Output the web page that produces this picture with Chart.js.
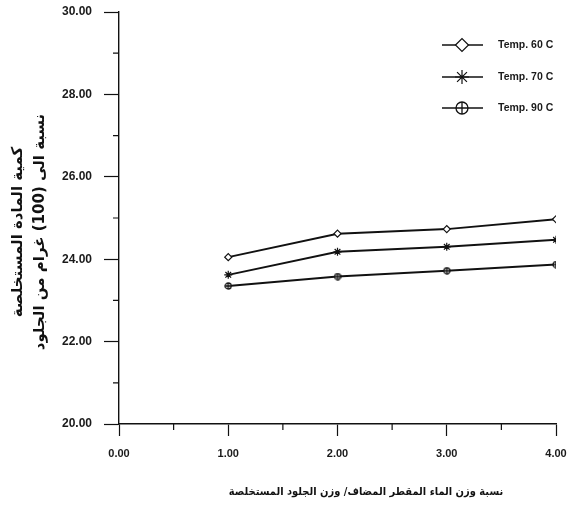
<!DOCTYPE html>
<html>
<head>
<meta charset="utf-8">
<script src="https://cdn.jsdelivr.net/npm/chart.js@4/dist/chart.umd.min.js"></script>
<style>
  html, body { margin: 0; padding: 0; background: #ffffff; }
  #wrap { width: 572px; height: 508px; }
</style>
</head>
<body>
<div id="wrap"><canvas id="c" width="572" height="508"></canvas></div>
<script>
// ---- data ----
const xValues = [1, 2, 3, 4];
const temp60 = [24.05, 24.62, 24.73, 24.97];
const temp70 = [23.62, 24.18, 24.30, 24.47];
const temp90 = [23.35, 23.58, 23.72, 23.87];
const seriesNames = ['Temp. 60 C', 'Temp. 70 C', 'Temp. 90 C'];
const yTickValues = [20, 22, 24, 26, 28, 30];
const xTickValues = [0, 1, 2, 3, 4];
const yTitle = ['كمية المادة المستخلصة', 'نسبة الى (100) غرام من الجلود'];
const xTitle = 'نسبة وزن الماء المقطر المضاف/ وزن الجلود المستخلصة';

function circlePlus(size) {
  const cv = document.createElement('canvas');
  cv.width = size; cv.height = size;
  const g = cv.getContext('2d');
  const r = size / 2 - 1;
  g.strokeStyle = '#111'; g.lineWidth = 1.3;
  g.fillStyle = '#fff';
  g.beginPath(); g.arc(size / 2, size / 2, r, 0, Math.PI * 2); g.fill(); g.stroke();
  g.beginPath();
  g.moveTo(size / 2, 1); g.lineTo(size / 2, size - 1);
  g.moveTo(1, size / 2); g.lineTo(size - 1, size / 2);
  g.stroke();
  return cv;
}
const cpSmall = circlePlus(8);
const cpLarge = circlePlus(14);

const pts = (arr) => xValues.map((x, i) => ({ x: x, y: arr[i] }));

const styles = [
  { pointStyle: 'rectRot', radius: 3.5, legendRadius: 6.5, bg: '#ffffff' },
  { pointStyle: 'star', radius: 4, legendRadius: 7, bg: '#111' },
  { pointStyle: cpSmall, legendStyle: cpLarge, radius: 4, legendRadius: 7, bg: '#fff' }
];

const bgPlugin = {
  id: 'bg',
  beforeDraw(chart) {
    const ctx = chart.ctx;
    ctx.save();
    ctx.fillStyle = '#ffffff';
    ctx.fillRect(0, 0, chart.width, chart.height);
    ctx.restore();
  }
};

const minorTicks = {
  id: 'minorTicks',
  afterDraw(chart) {
    const ctx = chart.ctx;
    const xs = chart.scales.x, ys = chart.scales.y;
    ctx.save();
    ctx.strokeStyle = '#111';
    ctx.lineWidth = 1.2;
    ctx.beginPath();
    for (let v = 21; v < 30; v += 2) {
      const py = ys.getPixelForValue(v);
      ctx.moveTo(xs.left - 6, py); ctx.lineTo(xs.left, py);
    }
    for (let v = 0.5; v < 4; v += 1) {
      const px = xs.getPixelForValue(v);
      ctx.moveTo(px, ys.bottom); ctx.lineTo(px, ys.bottom + 6);
    }
    ctx.stroke();
    ctx.restore();
  }
};

// axis titles (real text) placed as in the reference
const axisTitles = {
  id: 'axisTitles',
  afterDraw(chart) {
    const ctx = chart.ctx;
    ctx.save();
    ctx.fillStyle = '#111';
    ctx.textAlign = 'center';
    ctx.textBaseline = 'middle';
    ctx.font = 'bold 11px "DejaVu Sans Condensed", "DejaVu Sans", sans-serif';
    ctx.fillText(xTitle, 366, 492);
    ctx.font = 'bold 15px "DejaVu Sans", sans-serif';
    const xs = [18, 40];
    yTitle.forEach((t, i) => {
      ctx.save();
      ctx.translate(xs[i], 232);
      ctx.rotate(-Math.PI / 2);
      ctx.fillText(t, 0, 0);
      ctx.restore();
    });
    ctx.restore();
  }
};

const legendPlugin = {
  id: 'customLegend',
  afterDraw(chart) {
    const ctx = chart.ctx;
    const rows = [45, 77, 108];
    ctx.save();
    chart.data.datasets.forEach((ds, i) => {
      const y = rows[i];
      ctx.strokeStyle = '#111';
      ctx.lineWidth = 1.6;
      ctx.beginPath(); ctx.moveTo(442, y); ctx.lineTo(483, y); ctx.stroke();
      const st = styles[i];
      ctx.fillStyle = st.bg;
      ctx.lineWidth = 1.2;
      Chart.helpers.drawPoint(ctx, {
        pointStyle: st.legendStyle || st.pointStyle,
        rotation: 0,
        radius: st.legendRadius,
        borderWidth: 1.2
      }, 462, y);
      ctx.fillStyle = '#1a1a1a';
      ctx.font = 'bold 10.5px "Liberation Sans", Arial, sans-serif';
      ctx.textAlign = 'left';
      ctx.textBaseline = 'middle';
      ctx.direction = 'ltr';
      ctx.fillText(ds.label, 498, y);
    });
    ctx.restore();
  }
};

const mk = (arr, i) => ({
  label: seriesNames[i],
  data: pts(arr),
  borderColor: '#111',
  borderWidth: 2,
  backgroundColor: styles[i].bg,
  pointStyle: styles[i].pointStyle,
  pointRadius: styles[i].radius,
  pointBorderColor: '#111',
  pointBorderWidth: 1.2,
  tension: 0,
  fill: false
});

new Chart(document.getElementById('c'), {
  type: 'line',
  data: { datasets: [mk(temp60, 0), mk(temp70, 1), mk(temp90, 2)] },
  options: {
    responsive: false,
    animation: false,
    devicePixelRatio: 1,
    layout: { padding: { top: 12, right: 16, left: 0, bottom: 0 } },
    plugins: { legend: { display: false }, tooltip: { enabled: false } },
    scales: {
      x: {
        type: 'linear',
        min: 0, max: 4,
        afterBuildTicks: (s) => { s.ticks = xTickValues.map(v => ({ value: v })); },
        afterFit: (s) => { s.height = 84; s.paddingLeft = 0; s.paddingRight = 0; },
        ticks: {
          callback: (v) => Number(v).toFixed(2),
          color: '#1a1a1a',
          font: { family: '"Liberation Sans", Arial, sans-serif', size: 11, weight: 'bold' },
          padding: 11,
          maxRotation: 0
        },
        grid: { drawOnChartArea: false, drawTicks: true, tickLength: 12, tickColor: '#111', tickWidth: 1.2 },
        border: { display: true, color: '#111', width: 1.6 }
      },
      y: {
        min: 20, max: 30,
        afterBuildTicks: (s) => { s.ticks = yTickValues.map(v => ({ value: v })); },
        afterFit: (s) => { s.width = 119; s.paddingTop = 0; s.paddingBottom = 0; },
        ticks: {
          callback: (v) => Number(v).toFixed(2),
          color: '#1a1a1a',
          font: { family: '"Liberation Sans", Arial, sans-serif', size: 12, weight: 'bold' },
          padding: 12
        },
        grid: { drawOnChartArea: false, drawTicks: true, tickLength: 15, tickColor: '#111', tickWidth: 1.2 },
        border: { display: true, color: '#111', width: 1.4 }
      }
    }
  },
  plugins: [bgPlugin, minorTicks, axisTitles, legendPlugin]
});
</script>
</body>
</html>
